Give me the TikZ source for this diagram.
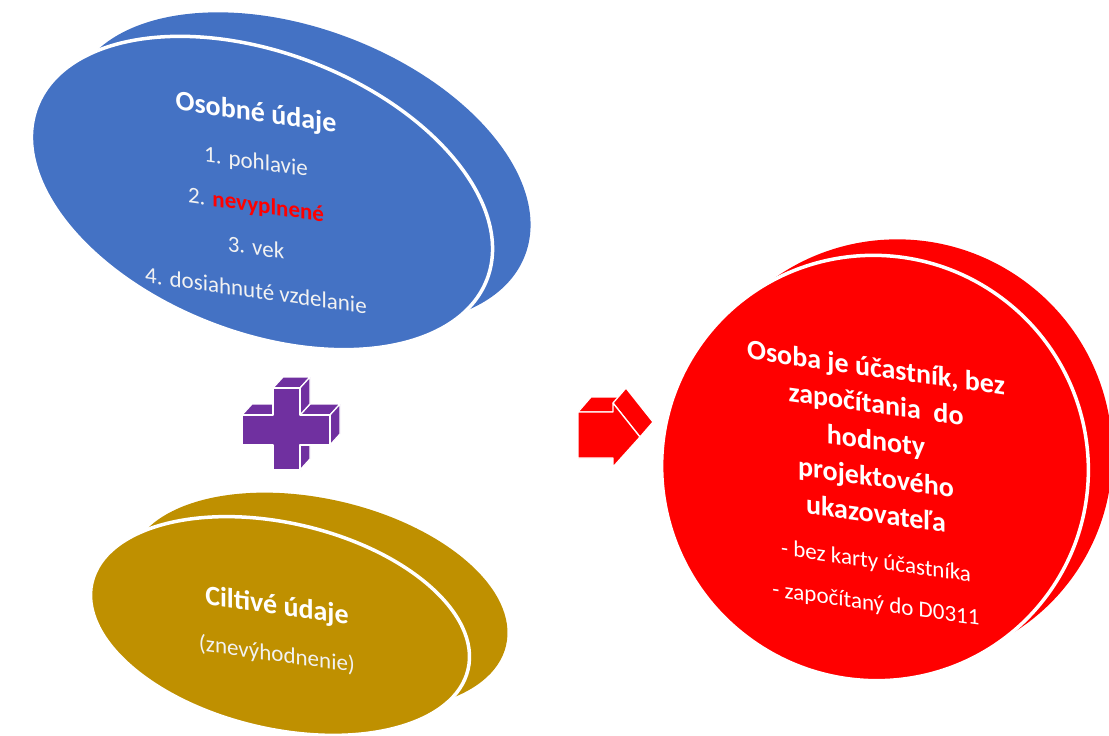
\documentclass[tikz,border=0pt]{standalone}
\usepackage{fontspec}
\setmainfont{Carlito}
\usetikzlibrary{shapes.geometric}
\definecolor{ublue}{HTML}{4472C4}
\definecolor{ugold}{HTML}{BF9000}
\definecolor{ured}{HTML}{FF0000}
\definecolor{upurple}{HTML}{7030A0}
\definecolor{softwhite}{HTML}{F2F2F2}
\begin{document}
\begin{tikzpicture}[x=1pt,y=-1pt,
  backdisk/.style={ellipse, inner sep=0pt, draw=none},
  frontdisk/.style={ellipse, inner sep=0pt, draw=white, line width=3.5pt},
  label/.style={align=center, inner sep=0pt, yslant=-0.14, text=softwhite},
  face/.style={draw=white, line width=1.3pt, line join=round},
]
\useasboundingbox (0,0) rectangle (1109,736);

% ---------- blue disk ----------
\node[backdisk, fill=ublue, minimum width=482pt, minimum height=280pt, rotate=-21] (persback) at (300,169) {};
\node[frontdisk, fill=ublue, minimum width=482pt, minimum height=280pt, rotate=-21] (pers) at (262,193) {};
\node[label, font=\fontsize{23}{43}\selectfont] (perstext) at (256,200)
  {{\color{white}\bfseries\fontsize{28}{32}\selectfont Osobné údaje}\\[5pt]
   1. pohlavie\\
   2. {\color{ured}\bfseries nevyplnené}\\
   3. vek\\
   4. dosiahnuté vzdelanie};

% ---------- gold disk ----------
\node[backdisk, fill=ugold, minimum width=386pt, minimum height=206pt, rotate=-13] (citback) at (318,602) {};
\node[frontdisk, fill=ugold, minimum width=386pt, minimum height=206pt, rotate=-13] (cit) at (280,626) {};
\node[label, font=\fontsize{23}{47}\selectfont] (cittext) at (277,630)
  {{\color{white}\bfseries\fontsize{28}{32}\selectfont Ciltivé údaje}\\
   (znevýhodnenie)};

% ---------- red disk ----------
\node[backdisk, fill=ured, minimum width=428pt, minimum height=424pt, rotate=-35] (resback) at (899,452) {};
\node[frontdisk, fill=ured, minimum width=428pt, minimum height=424pt, rotate=-35] (res) at (875,468) {};
\node[label, text=white, font=\fontsize{23}{36.5}\selectfont] (restext) at (876,486)
  {{\bfseries\fontsize{28}{32}\selectfont Osoba je účastník, bez}\\
   {\bfseries\fontsize{28}{32}\selectfont započítania\ \ do}\\
   {\bfseries\fontsize{28}{32}\selectfont hodnoty}\\
   {\bfseries\fontsize{28}{32}\selectfont projektového}\\
   {\bfseries\fontsize{28}{32}\selectfont ukazovateľa}\\[9pt]
   - bez karty účastníka\\[6pt]
   - započítaný do D0311};

% ---------- 3D plus ----------
\coordinate (plus) at (286,429);
\begin{scope}[fill=upurple]
  % top faces
  \filldraw[face] (273,388) -- (300,388) -- (310,377) -- (283,377) -- cycle;
  \filldraw[face] (242,415) -- (273,415) -- (283,404) -- (252,404) -- cycle;
  \filldraw[face] (300,415) -- (330,415) -- (340,404) -- (310,404) -- cycle;
  % right faces
  \filldraw[face] (300,388) -- (300,415) -- (310,404) -- (310,377) -- cycle;
  \filldraw[face] (330,415) -- (330,445) -- (340,434) -- (340,404) -- cycle;
  \filldraw[face] (300,445) -- (300,470) -- (310,459) -- (310,434) -- cycle;
  % front face
  \filldraw[face] (273,388) -- (300,388) -- (300,415) -- (330,415) -- (330,445)
     -- (300,445) -- (300,470) -- (273,470) -- (273,445) -- (242,445)
     -- (242,415) -- (273,415) -- cycle;
\end{scope}

% ---------- 3D arrow ----------
\coordinate (arrow) at (608,435);
\begin{scope}[fill=ured]
  \filldraw[face] (578,412) -- (613,412) -- (626,397) -- (591,397) -- cycle;
  \filldraw[face] (613,403) -- (640,437) -- (653,422) -- (626,388) -- cycle;
  \filldraw[face] (578,412) -- (613,412) -- (613,403) -- (640,437) -- (613,467)
     -- (613,458) -- (578,458) -- cycle;
\end{scope}
\end{tikzpicture}
\end{document}
